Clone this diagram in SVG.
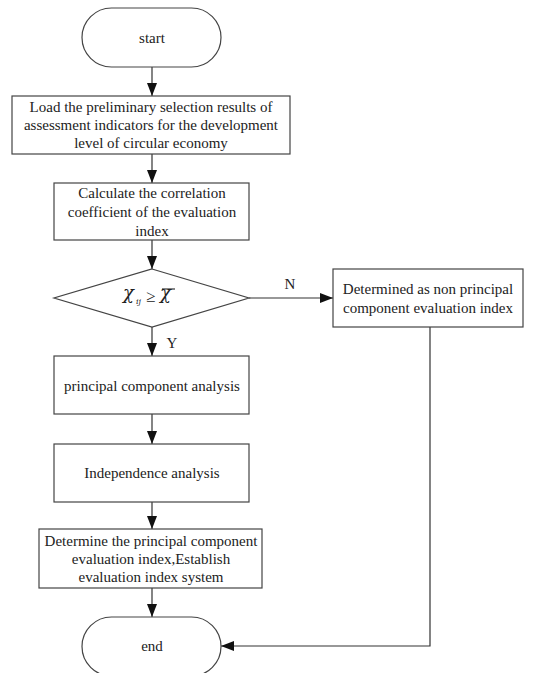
<svg xmlns="http://www.w3.org/2000/svg" width="544" height="673" viewBox="0 0 544 673">
<style>
.s{fill:#fff;stroke:#444;stroke-width:1.2}
.t{font-family:"Liberation Serif","Times New Roman",serif;font-size:15px;fill:#222;text-anchor:middle}
.m{font-family:"DejaVu Serif","Liberation Serif",serif;fill:#222;font-style:italic}
.c{fill:none;stroke:#333;stroke-width:1.2}
</style>
<defs>
<marker id="ah" markerWidth="13" markerHeight="10" refX="13" refY="5" orient="auto" markerUnits="userSpaceOnUse" viewBox="0 0 13 10">
<path d="M0,0 L13,5 L0,10 Z" fill="#111"/>
</marker>
</defs>
<rect width="544" height="673" fill="#fff"/>
<g id="connectors">
<line class="c" x1="152" y1="67" x2="152" y2="96" marker-end="url(#ah)"/>
<line class="c" x1="152" y1="154" x2="152" y2="183" marker-end="url(#ah)"/>
<line class="c" x1="152" y1="240" x2="152" y2="269" marker-end="url(#ah)"/>
<line class="c" x1="249" y1="298" x2="333" y2="298" marker-end="url(#ah)"/>
<line class="c" x1="152" y1="327" x2="152" y2="356" marker-end="url(#ah)"/>
<line class="c" x1="152" y1="414" x2="152" y2="444" marker-end="url(#ah)"/>
<line class="c" x1="152" y1="502" x2="152" y2="529" marker-end="url(#ah)"/>
<line class="c" x1="152" y1="588" x2="152" y2="617" marker-end="url(#ah)"/>
<polyline class="c" points="430,327 430,646 221,646" marker-end="url(#ah)"/>
<text class="t" x="290" y="289">N</text>
<text class="t" x="172" y="348">Y</text>
</g>
<g id="start">
<rect class="s" x="82" y="8" width="139" height="59" rx="29.5"/>
<text class="t" x="152" y="43">start</text>
</g>
<g id="load">
<rect class="s" x="12" y="96" width="278" height="58"/>
<text class="t" x="151" y="112">Load the preliminary selection results of</text>
<text class="t" x="151" y="130">assessment indicators for the development</text>
<text class="t" x="151" y="148">level of circular economy</text>
</g>
<g id="calc">
<rect class="s" x="54" y="183" width="195" height="57"/>
<text class="t" x="152" y="198">Calculate the correlation</text>
<text class="t" x="152" y="217">coefficient of the evaluation</text>
<text class="t" x="152" y="236">index</text>
</g>
<g id="decision">
<polygon class="s" points="152,269 249,298 152,327 54,298"/>
<text class="m" x="123" y="299" font-size="18">χ</text>
<text class="m" x="136" y="304" font-size="8">ij</text>
<text x="146" y="302" font-family="Liberation Serif, serif" font-size="17" fill="#222">≥</text>
<text class="m" x="160" y="299" font-size="18">χ</text>
<line x1="162" y1="289" x2="175" y2="289" stroke="#222" stroke-width="1.1"/>
</g>
<g id="nonprincipal">
<rect class="s" x="333" y="269" width="190" height="58"/>
<text class="t" x="428" y="294">Determined as non principal</text>
<text class="t" x="428" y="313">component evaluation index</text>
</g>
<g id="pca">
<rect class="s" x="54" y="356" width="195" height="58"/>
<text class="t" x="152" y="391">principal component analysis</text>
</g>
<g id="independence">
<rect class="s" x="54" y="444" width="195" height="58"/>
<text class="t" x="152" y="478">Independence analysis</text>
</g>
<g id="determine">
<rect class="s" x="39" y="529" width="223" height="59"/>
<text class="t" x="151" y="546">Determine the principal component</text>
<text class="t" x="151" y="564">evaluation index,Establish</text>
<text class="t" x="151" y="582">evaluation index system</text>
</g>
<g id="end">
<rect class="s" x="82" y="617" width="139" height="59" rx="29.5"/>
<text class="t" x="152" y="651">end</text>
</g>
</svg>
